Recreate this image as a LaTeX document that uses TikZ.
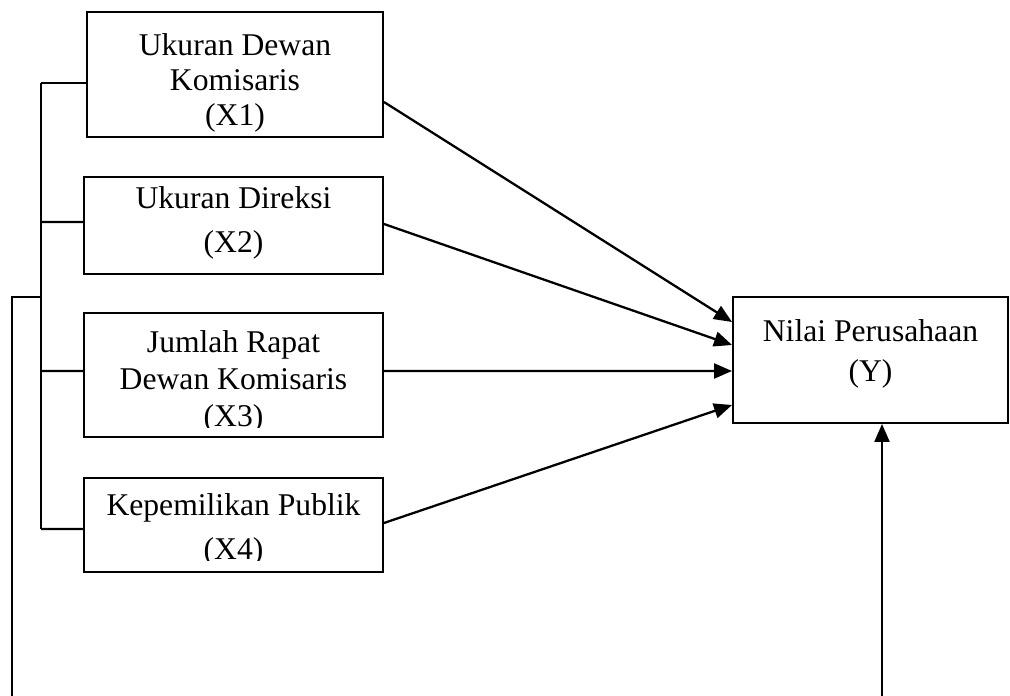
\documentclass[tikz,border=0pt]{standalone}
\usepackage{fontspec}
\setmainfont{Liberation Serif}
\usetikzlibrary{arrows.meta}
\tikzset{
	box/.style={draw, line width=1.1pt, inner sep=0pt},
	txt/.style={align=center, inner sep=0pt, font=\fontsize{18}{20}\selectfont},
	line/.style={line width=1.3pt},
	arr/.style={line width=1.3pt, -{Triangle[length=0.36cm, width=0.3cm]}}
}

\begin{document}
\begin{tikzpicture}
				%%%%% START %%%%%
				\useasboundingbox (0, 0) rectangle (20.2, -13.92);
				
				\node[box, minimum width=5.92cm, minimum height=2.5cm] (x1) at (4.70, -1.49) {};
				\node[txt] (t1) at (4.70, -1.66) {Ukuran Dewan\\Komisaris\\(X1)};
				
				\node[box, minimum width=5.98cm, minimum height=1.94cm] (x2) at (4.67, -4.51) {};
				\node[txt] (t2) at (4.67, -4.46) {Ukuran Direksi\\[5pt](X2)};
				
				\node[box, minimum width=5.98cm, minimum height=2.48cm] (x3) at (4.67, -7.5) {};
				\begin{scope}
					\clip (1.68, -6.26) rectangle (7.66, -8.54);
					\node[txt] (t3) at (4.67, -7.64) {Jumlah Rapat\\[1pt]Dewan Komisaris\\[1pt](X3)};
				\end{scope}
				
				\node[box, minimum width=5.98cm, minimum height=1.88cm] (x4) at (4.67, -10.5) {};
				\begin{scope}
					\clip (1.68, -9.56) rectangle (7.66, -11.2);
					\node[txt] (t4) at (4.67, -10.6) {Kepemilikan Publik\\[5pt](X4)};
				\end{scope}
				
				\node[box, minimum width=5.5cm, minimum height=2.52cm] (y) at (17.41, -7.2) {};
				\node[txt] (ty) at (17.41, -7.08) {Nilai Perusahaan\\[3pt](Y)};
				
				% arrows to Y
				\draw[arr] ([yshift=-0.55cm]x1.east) -- ([yshift=0.76cm]y.west);
				\draw[arr] ([yshift=0.03cm]x2.east) -- ([yshift=0.3cm]y.west);
				\draw[arr] ([yshift=0.08cm]x3.east) -- ([yshift=-0.22cm]y.west);
				\draw[arr] ([yshift=0.04cm]x4.east) -- ([yshift=-0.9cm]y.west);
				
				% bracket on the left
				\coordinate (b1) at (0.82, -1.66);
				\coordinate (b2) at (0.82, -4.44);
				\coordinate (b3) at (0.82, -7.42);
				\coordinate (b4) at (0.82, -10.58);
				\draw[line] (b1) -- (b4);
				\draw[line] (b1) -- ([yshift=-0.17cm]x1.west);
				\draw[line] (b2) -- ([yshift=0.07cm]x2.west);
				\draw[line] (b3) -- ([yshift=0.08cm]x3.west);
				\draw[line] (b4) -- ([yshift=-0.08cm]x4.west);
				
				% outer line
				\coordinate (o1) at (0.82, -5.94);
				\coordinate (o2) at (0.24, -5.94);
				\coordinate (o3) at (0.24, -13.92);
				\draw[line] (o1) -- (o2) -- (o3);
				
				\coordinate (o4) at (17.64, -13.92);
				\draw[arr] (o4) -- (o4 |- y.south);
				%%%%% END %%%%%
\end{tikzpicture}
\end{document}
